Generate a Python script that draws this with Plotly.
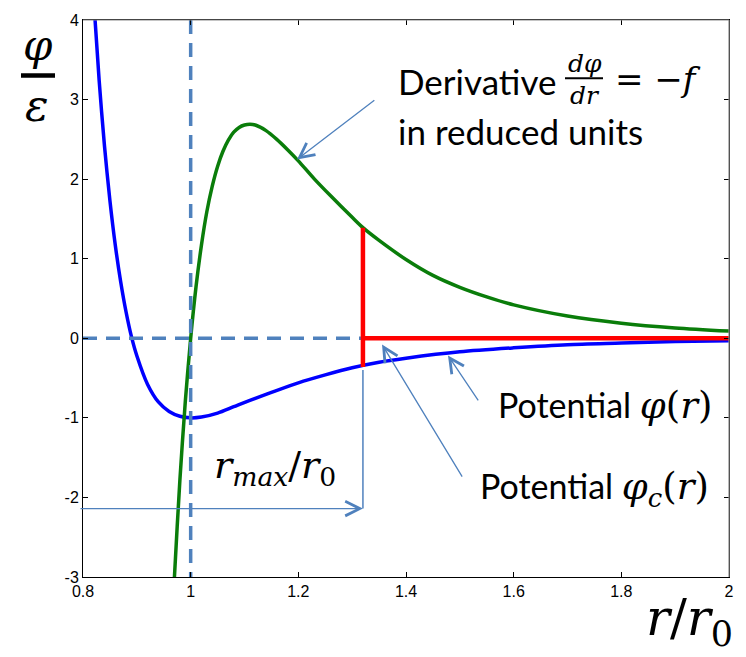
import plotly.graph_objects as go

# ---------------- data (reduced units) ----------------
r_phi = [0.82, 0.83, 0.84, 0.85, 0.86, 0.87, 0.88, 0.89, 0.90, 0.92, 0.94, 0.96, 0.98,
         1.00, 1.02, 1.05, 1.08, 1.11, 1.15, 1.20, 1.25, 1.30, 1.35, 1.40, 1.50, 1.60,
         1.70, 1.80, 1.90, 2.00]
phi = [4.24, 3.24, 2.41, 1.73, 1.17, 0.71, 0.33, 0.02, -0.22, -0.58, -0.80, -0.92, -0.98,
       -1.00, -0.99, -0.94, -0.86, -0.78, -0.68, -0.56, -0.46, -0.37, -0.30, -0.25, -0.17,
       -0.12, -0.08, -0.06, -0.04, -0.03]

r_dphi = [0.965, 0.97, 0.98, 0.99, 1.00, 1.01, 1.02, 1.03, 1.04, 1.05, 1.06, 1.07, 1.08,
          1.09, 1.10, 1.11, 1.12, 1.14, 1.16, 1.18, 1.20, 1.23, 1.26, 1.30, 1.32, 1.35,
          1.40, 1.45, 1.50, 1.55, 1.60, 1.70, 1.80, 1.90, 2.00]
dphi = [-3.67, -2.98, -1.78, -0.80, 0.00, 0.65, 1.17, 1.59, 1.91, 2.16, 2.35, 2.49, 2.59,
        2.65, 2.68, 2.69, 2.68, 2.61, 2.50, 2.37, 2.23, 2.00, 1.79, 1.52, 1.39, 1.23,
        0.99, 0.79, 0.64, 0.52, 0.42, 0.28, 0.19, 0.13, 0.09]

r_cut = 1.32
cut_top = 1.39        # derivative at r_cut
cut_bottom = -0.36    # potential at r_cut
r_end = 2.0
r0 = 1.0
rmax_arrow_y = -2.14

x_ticks = [0.8, 1.0, 1.2, 1.4, 1.6, 1.8, 2.0]
x_ticktext = ["0.8", "1", "1.2", "1.4", "1.6", "1.8", "2"]
y_ticks = [-3, -2, -1, 0, 1, 2, 3, 4]
y_ticktext = ["-3", "-2", "-1", "0", "1", "2", "3", "4"]

# ---------------- styling ----------------
W, H = 746, 657
L, R, T, B = 83, 17, 14, 80
BLUE = "#0000FF"
GREEN = "#0A7D0A"
RED = "#FF0000"
STEEL = "#4F81BD"
SANS = "Lato"
SERIF = "DejaVu Serif"


def px(xp):
    return (xp - L) / (W - L - R)


def py(yp):
    return (H - B - yp) / (H - T - B)


fig = go.Figure()
fig.add_trace(go.Scatter(x=r_phi, y=phi, mode="lines",
                         line=dict(color=BLUE, width=3.5, shape="spline", smoothing=0.8)))
fig.add_trace(go.Scatter(x=r_dphi, y=dphi, mode="lines",
                         line=dict(color=GREEN, width=3.5, shape="spline", smoothing=0.8)))
# dashed reference lines
fig.add_trace(go.Scatter(x=[r0, r0], y=[y_ticks[-1], y_ticks[0]], mode="lines",
                         line=dict(color=STEEL, width=3.5, dash="14px,9px")))
fig.add_trace(go.Scatter(x=[x_ticks[0], r_cut], y=[0, 0], mode="lines",
                         line=dict(color=STEEL, width=3.5, dash="14px,9px")))
# cut potential (red)
fig.add_trace(go.Scatter(x=[r_cut, r_cut, None, r_cut, r_end],
                         y=[cut_top, cut_bottom, None, 0, 0], mode="lines",
                         line=dict(color=RED, width=4.5)))

shapes = [
    dict(type="line", xref="x", yref="y", x0=r_cut, x1=r_cut, y0=-0.40, y1=rmax_arrow_y,
         line=dict(color=STEEL, width=1.5)),
    # gray top / right frame
    dict(type="line", xref="paper", yref="paper", x0=0, x1=1, y0=1, y1=1,
         line=dict(color="#8a8a8a", width=1.2), layer="above"),
    dict(type="line", xref="paper", yref="paper", x0=1, x1=1, y0=0, y1=1,
         line=dict(color="#8a8a8a", width=1.2), layer="above"),
    # fraction bars
    dict(type="line", xref="paper", yref="paper", x0=px(565), x1=px(603), y0=py(73), y1=py(73),
         line=dict(color="black", width=2)),
    dict(type="line", xref="paper", yref="paper", x0=px(21), x1=px(55), y0=py(70), y1=py(70),
         line=dict(color="black", width=4.5)),
]

ann = []


def arrow(xt, yt, xa, ya):
    ann.append(dict(x=xt, y=yt, ax=xa, ay=ya, xref="x", yref="y", axref="x", ayref="y",
                    text="", showarrow=True, arrowhead=5, arrowsize=2.2, arrowwidth=1.3,
                    arrowcolor=STEEL, standoff=0))


arrow(1.1975, 2.247, 1.344, 3.005)
arrow(1.478, -0.215, 1.536, -0.80)
arrow(1.3555, -0.078, 1.506, -1.757)
arrow(r_cut, rmax_arrow_y, 0.7926, rmax_arrow_y)


def text(xp, yp, s, size, family=SANS, xanchor="left"):
    ann.append(dict(x=px(xp), y=py(yp), xref="paper", yref="paper", text=s, showarrow=False,
                    xanchor=xanchor, yanchor="middle",
                    font=dict(family=family, size=size, color="black")))


MATH = "<span style='font-family:DejaVu Serif;font-size:37px'>"
text(396, 76, "Derivative", 35)
text(585, 58, "<i>dφ</i>", 25, SERIF, "center")
text(585, 90, "<i>dr</i>", 25, SERIF, "center")
text(613, 74, "= −<i>f</i>", 34, SERIF)
text(396, 126, "in reduced units", 35)
text(496, 404, "Potential " + MATH + "<i>φ</i>(<i>r</i>)</span>", 34)
text(478, 488, "Potential " + MATH + "<i>φ<sub>c</sub></i>(<i>r</i>)</span>", 34)
text(212, 466, "<i>r<sub>max</sub></i>/<i>r</i><sub>0</sub>", 38, SERIF)
text(38, 40, "<i>φ</i>", 42, SERIF, "center")
text(37, 100, "<i>ε</i>", 44, SERIF, "center")
text(644, 622, "<i>r</i>/<i>r</i><sub>0</sub>", 50, SERIF)

axis_common = dict(showgrid=False, zeroline=False, showline=True, linecolor="black",
                   linewidth=1, mirror="ticks", ticks="inside", ticklen=5, tickcolor="black",
                   tickfont=dict(family="Liberation Sans", size=16, color="black"))

fig.update_layout(
    width=W, height=H, margin=dict(l=L, r=R, t=T, b=B, pad=0),
    paper_bgcolor="white", plot_bgcolor="white", showlegend=False,
    xaxis=dict(range=[x_ticks[0], x_ticks[-1]], tickvals=x_ticks, ticktext=x_ticktext,
               **axis_common),
    yaxis=dict(range=[y_ticks[0], y_ticks[-1]], tickvals=y_ticks, ticktext=y_ticktext,
               **axis_common),
    shapes=shapes, annotations=ann,
)
fig.write_html("out.html", config={"displayModeBar": False},
               post_script="document.body.style.margin='0px';document.body.style.padding='0px';")
